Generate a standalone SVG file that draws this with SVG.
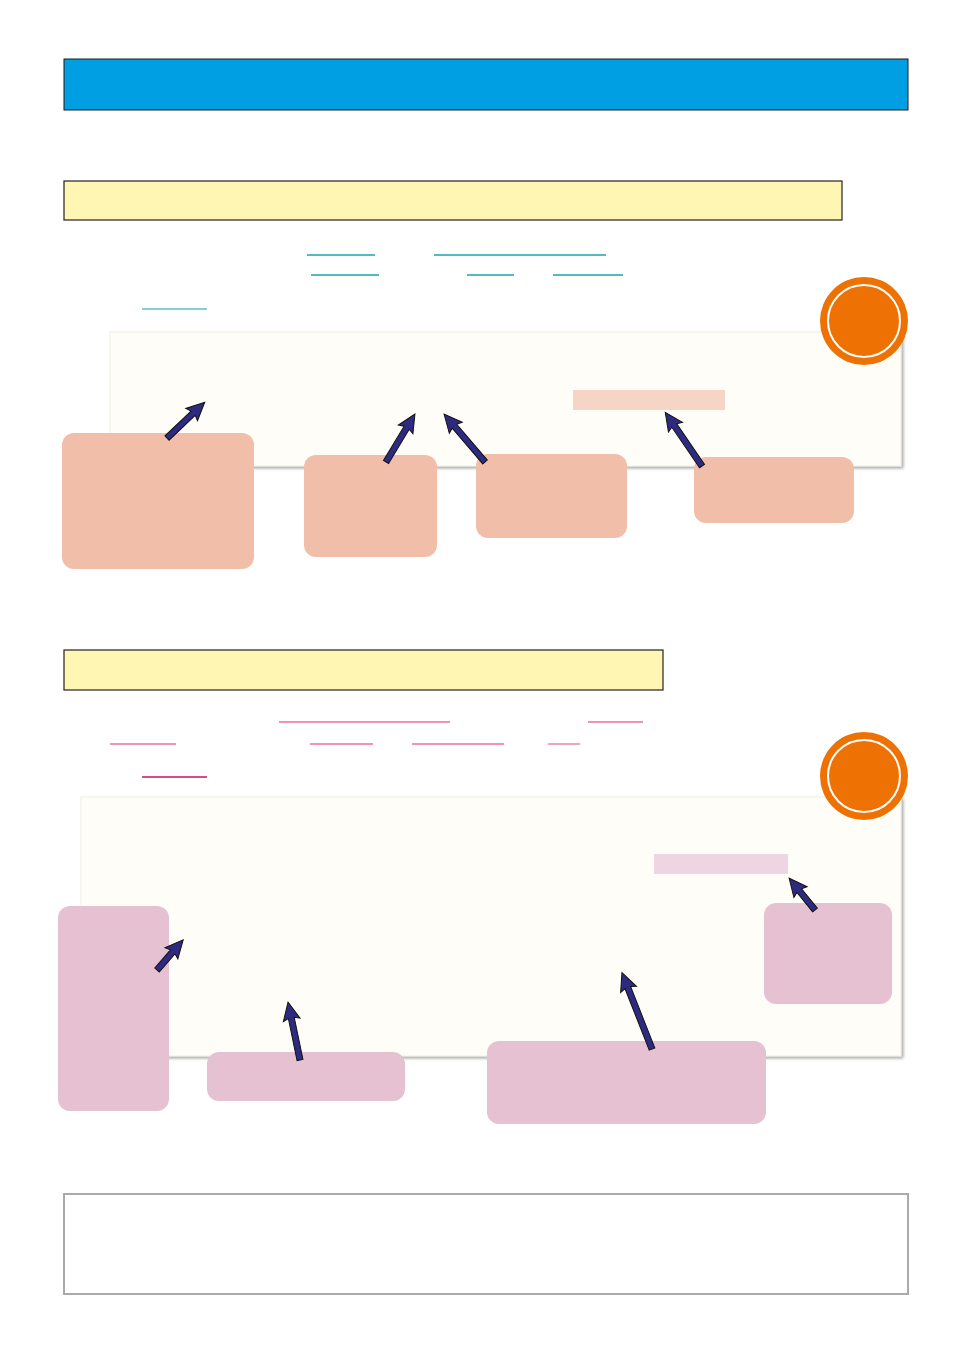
<svg xmlns="http://www.w3.org/2000/svg" width="954" height="1350" viewBox="0 0 954 1350">
<defs>
<filter id="sh" x="-5%" y="-5%" width="110%" height="115%"><feDropShadow dx="2" dy="2" stdDeviation="1.5" flood-color="#000" flood-opacity="0.35"/></filter>
</defs>
<style>
.title{fill:#009FE3;stroke:#1a1a1a;stroke-width:1}
.yel{fill:#FFF6B3;stroke:#222;stroke-width:1.2}
.panel{fill:#FFFDF8;stroke:#eeeae0;stroke-width:0.8;filter:url(#sh)}
.salmon{fill:#F0BEA9}
.mauve{fill:#E5C1D2}
.ul1{stroke:#1AA3AA;stroke-width:1.3}
.ul1b{stroke:#5BBFC4;stroke-width:1.3}
.ul2{stroke:#EC6F9E;stroke-width:1.3}
.ul2b{stroke:#C8105A;stroke-width:1.3}
.badge{fill:#EE7203}
.ring{fill:none;stroke:#fff;stroke-width:2}
.arr{fill:#2E2A80;stroke:#111;stroke-width:1;stroke-linejoin:miter}
.note{fill:#fff;stroke:#aaa;stroke-width:2}
</style>
<rect width="954" height="1350" fill="#fff"/>

<g id="header"><rect class="title" x="64" y="59" width="844" height="51"/></g>

<g id="section1-title"><rect class="yel" x="64" y="181" width="778" height="39"/></g>
<g id="section1-lines">
<line class="ul1" x1="307" y1="255" x2="375" y2="255"/>
<line class="ul1" x1="434" y1="255" x2="606" y2="255"/>
<line class="ul1" x1="311" y1="275" x2="379" y2="275"/>
<line class="ul1" x1="467" y1="275" x2="514" y2="275"/>
<line class="ul1" x1="553" y1="275" x2="623" y2="275"/>
<line class="ul1b" x1="142" y1="309" x2="207" y2="309"/>
</g>
<g id="panel1"><rect class="panel" x="110" y="332" width="791" height="134"/>
<rect x="573" y="390" width="152" height="20" fill="#F6D5C7"/></g>
<g id="badge1"><circle class="badge" cx="864" cy="321" r="44"/><circle class="ring" cx="864" cy="321" r="36"/></g>
<g id="box-a"><rect class="salmon" x="62" y="433" width="192" height="136" rx="12"/></g>
<g id="box-b"><rect class="salmon" x="304" y="455" width="133" height="102" rx="12"/></g>
<g id="box-c"><rect class="salmon" x="476" y="454" width="151" height="84" rx="12"/></g>
<g id="box-d"><rect class="salmon" x="694" y="457" width="160" height="66" rx="12"/></g>

<g id="section2-title"><rect class="yel" x="64" y="650" width="599" height="40"/></g>
<g id="section2-lines">
<line class="ul2" x1="279" y1="722" x2="450" y2="722"/>
<line class="ul2" x1="588" y1="722" x2="643" y2="722"/>
<line class="ul2" x1="110" y1="744" x2="176" y2="744"/>
<line class="ul2" x1="310" y1="744" x2="373" y2="744"/>
<line class="ul2" x1="412" y1="744" x2="504" y2="744"/>
<line class="ul2" x1="548" y1="744" x2="580" y2="744"/>
<line class="ul2b" x1="142" y1="777" x2="207" y2="777"/>
</g>
<g id="panel2"><rect class="panel" x="81" y="797" width="820" height="259"/>
<rect x="654" y="854" width="134" height="20" fill="#EDD5E1"/></g>
<g id="badge2"><circle class="badge" cx="864" cy="776" r="44"/><circle class="ring" cx="864" cy="776" r="36"/></g>
<g id="box-e"><rect class="mauve" x="58" y="906" width="111" height="205" rx="12"/></g>
<g id="box-f"><rect class="mauve" x="207" y="1052" width="198" height="49" rx="12"/></g>
<g id="box-g"><rect class="mauve" x="487" y="1041" width="279" height="83" rx="12"/></g>
<g id="box-h"><rect class="mauve" x="764" y="903" width="128" height="101" rx="12"/></g>

<g id="connectors">
<path class="arr" transform="translate(167,438) rotate(-43.5)" d="M0,-3H36L34,-8.5L52,0L34,8.5L36,3H0Z"/>
<path class="arr" transform="translate(386,462) rotate(-58.9)" d="M0,-3H40L38,-8.5L56,0L38,8.5L40,3H0Z"/>
<path class="arr" transform="translate(485,462) rotate(-130.5)" d="M0,-3H47L45,-8.5L63,0L45,8.5L47,3H0Z"/>
<path class="arr" transform="translate(702,466) rotate(-124.4)" d="M0,-3H49L47,-8.5L65,0L47,8.5L49,3H0Z"/>
<path class="arr" transform="translate(157,970) rotate(-49.1)" d="M0,-3H24L22,-8.5L40,0L22,8.5L24,3H0Z"/>
<path class="arr" transform="translate(300,1060) rotate(-101.7)" d="M0,-3H43L41,-8.5L59,0L41,8.5L43,3H0Z"/>
<path class="arr" transform="translate(652,1049) rotate(-111.5)" d="M0,-3H66L64,-8.5L82,0L64,8.5L66,3H0Z"/>
<path class="arr" transform="translate(815,910) rotate(-129.1)" d="M0,-3H25L23,-8.5L41,0L23,8.5L25,3H0Z"/>
</g>

<g id="note"><rect class="note" x="64" y="1194" width="844" height="100"/></g>
</svg>
